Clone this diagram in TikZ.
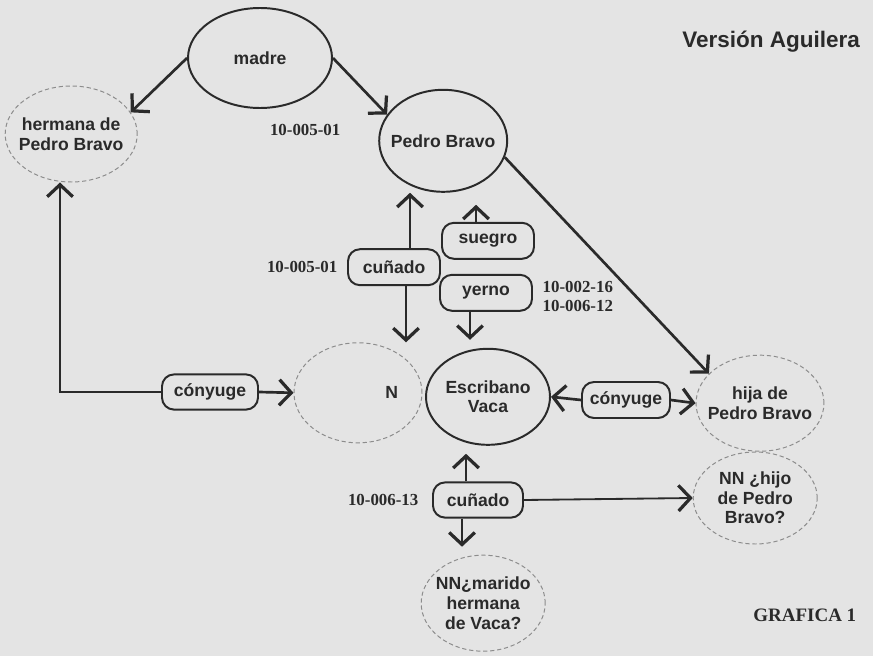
\documentclass[tikz,border=0pt]{standalone}
\usepackage{fontspec}
\setmainfont{Liberation Sans}
\newfontfamily\numfont{Liberation Serif}
\usepackage{xcolor}
\usepackage{tikz}
\usetikzlibrary{arrows.meta, positioning, shapes.geometric, calc}
\definecolor{paper}{RGB}{228,228,228}
\definecolor{ink}{RGB}{42,42,42}

\begin{document}
\begin{tikzpicture}[
  font=\fontsize{12.5}{14}\selectfont\bfseries, text=ink,
  pers/.style={ellipse, draw=ink, line width=1.4pt, inner sep=0pt, align=center,
               minimum width=3.15cm, minimum height=2.45cm},
  ghost/.style={ellipse, draw=black!45, densely dashed, line width=0.7pt, inner sep=0pt,
                align=center, minimum width=3.1cm, minimum height=2.4cm},
  rel/.style={rectangle, rounded corners=0.3cm, draw=ink, line width=1.4pt,
              minimum width=2.3cm, minimum height=0.9cm, inner sep=2pt},
  doc/.style={font=\numfont\fontsize{12}{13.5}\selectfont\bfseries, align=left, inner sep=1pt},
  arr/.style={-{Straight Barb[length=3mm, width=6.4mm, line width=2.3pt]},
              line width=1.9pt, draw=ink},
  link/.style={-{Straight Barb[length=3mm, width=6.4mm, line width=2.3pt]},
               line width=1.3pt, draw=ink}
]
%% page (scan background)
\useasboundingbox (0,0) rectangle (21.825,-16.4);
\fill[paper] (0,0) rectangle (21.825,-16.4);
%% persons
\node[pers, minimum width=3.6cm, minimum height=2.5cm] (madre) at (6.5,-1.45) {madre};
\node[ghost, minimum width=3.3cm, inner xsep=-5pt] (hermana) at (1.78,-3.35)
    {hermana de\\Pedro Bravo};
\node[pers, minimum width=3.2cm, minimum height=2.55cm, inner xsep=-5pt] (pedro)
    at (11.08,-3.52) {Pedro Bravo};
\node[ghost, minimum width=3.2cm, minimum height=2.5cm, text width=2.0cm, align=right] (nn)
    at (8.95,-9.82) {N};
\node[pers, minimum width=3.1cm, minimum height=2.4cm] (vaca) at (12.2,-9.92)
    {Escribano\\Vaca};
\node[ghost, inner xsep=-5pt] (hija) at (19.0,-10.08) {hija de\\Pedro Bravo};
\node[ghost, minimum height=2.3cm] (nnhijo) at (18.88,-12.45) {NN ¿hijo\\de Pedro\\Bravo?};
\node[ghost, inner xsep=-3pt] (nnmarido) at (12.08,-15.08) {NN¿marido\\hermana\\de Vaca?};
%% relations
\node[rel] (cunadoA) at (9.85,-6.68) {cuñado};
\node[rel] (suegro)  at (12.2,-6.02) {suegro};
\node[rel] (yerno)   at (12.15,-7.32) {yerno};
\node[rel, minimum width=2.4cm, minimum height=0.88cm] (conyA) at (5.25,-9.8) {cónyuge};
\node[rel, minimum width=2.2cm] (conyB) at (15.65,-10.0) {cónyuge};
\node[rel, minimum width=2.25cm, minimum height=0.88cm] (cunadoB) at (11.95,-12.5) {cuñado};
%% document references
\node[doc] (refA) at (7.63,-3.25) {10-005-01};
\node[doc, left=0.2cm of cunadoA] (refB) {10-005-01};
\node[doc, right=0.2cm of yerno, yshift=-0.1cm] (refC) {10-002-16\\10-006-12};
\node[doc, left=0.3cm of cunadoB] (refD) {10-006-13};
%% titles
\node[font=\fontsize{16}{18}\selectfont\bfseries] (version) at (19.28,-1.05) {Versión Aguilera};
\node[font=\numfont\fontsize{13.5}{15}\selectfont\bfseries] (grafica) at (20.12,-15.38)
    {GRAFICA 1};
%% madre's children
\draw[arr] (madre.west) -- (hermana.20);
\draw[arr] (madre.east) -- (pedro.155);
\draw[arr] (pedro.-15) -- (hija.150);
%% cuñado between Pedro Bravo and N
\coordinate (cA_up) at ([xshift=4mm]cunadoA.north);
\coordinate (cA_dn) at ([xshift=3mm]cunadoA.south);
\draw[arr] (cA_up) -- (cA_up |- pedro.south);
\draw[arr] (cA_dn) -- (cA_dn |- nn.north);
%% suegro / yerno
\coordinate (sg_up) at ([xshift=-3mm]suegro.north);
\coordinate (yr_dn) at ([xshift=-4mm]yerno.south);
\draw[arr, shorten >=3mm] (sg_up) -- (sg_up |- pedro.south);
\draw[arr, shorten >=2mm] (yr_dn) -- (yr_dn |- vaca.north);
%% cónyuge links
\draw[arr] (conyA.east) -- (nn.west);
\draw[arr] (conyA.west) -| ([xshift=-0.28cm]hermana.south);
\draw[arr] (conyB.west) -- (vaca.east);
\draw[arr] (conyB.east) -- (hija.west);
%% cuñado between Vaca and NN
\coordinate (cB_up) at ([xshift=-3mm]cunadoB.north);
\coordinate (cB_dn) at ([xshift=-4mm]cunadoB.south);
\draw[arr, shorten >=2mm] (cB_up) -- (cB_up |- vaca.south);
\draw[arr, shorten >=2mm] (cB_dn) -- (cB_dn |- nnmarido.north);
\draw[link] (cunadoB.east) -- (nnhijo.west);
\end{tikzpicture}
\end{document}
